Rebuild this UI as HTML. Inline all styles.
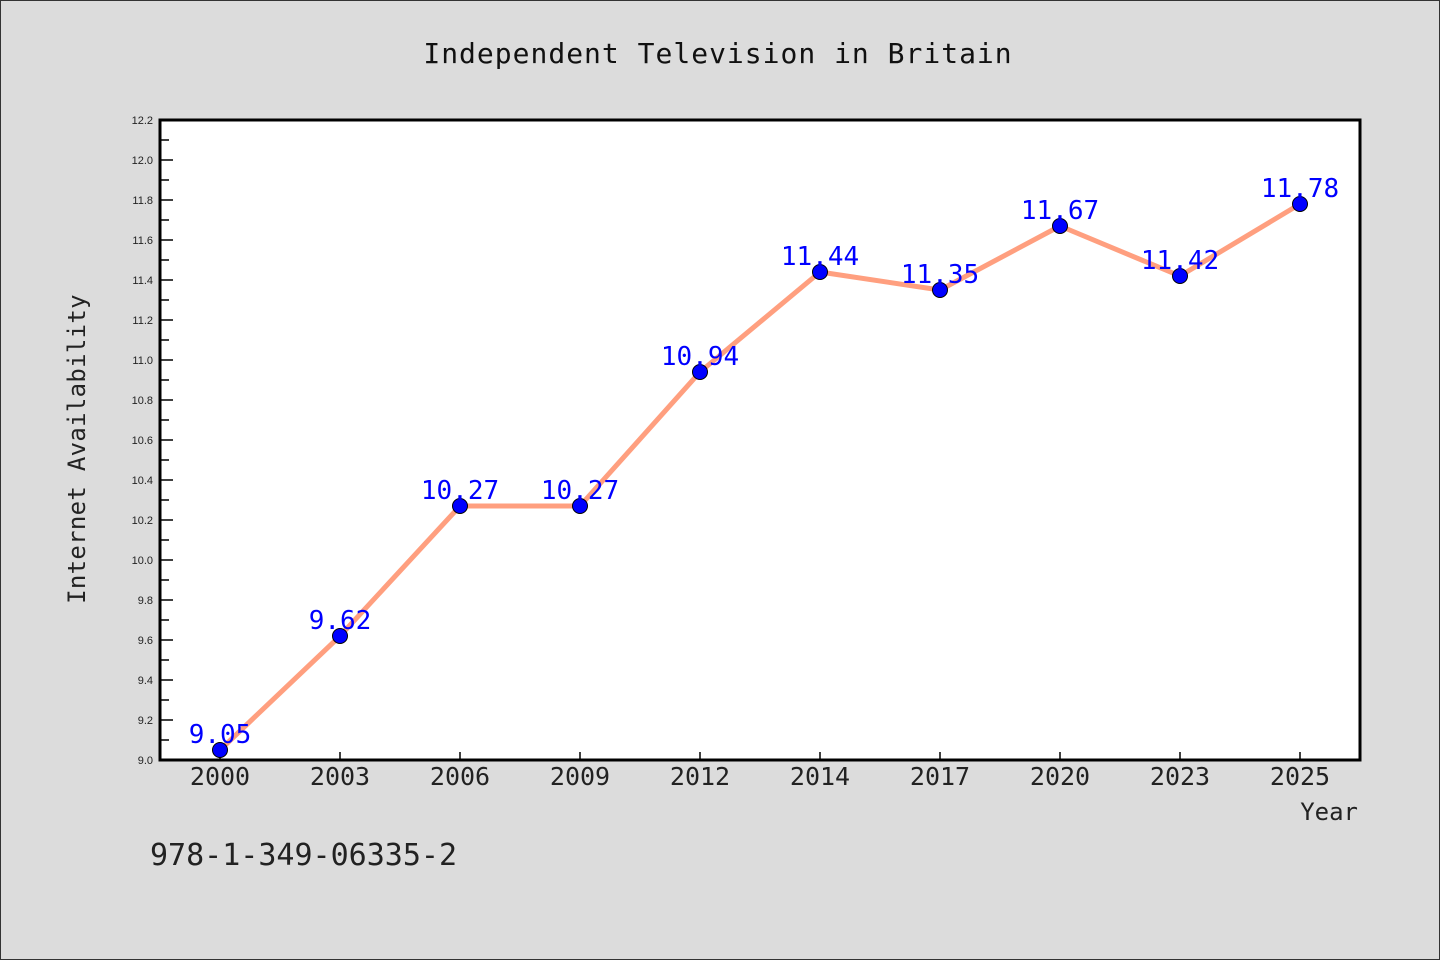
<!DOCTYPE html>
<html><head><meta charset="utf-8"><style>
html,body{margin:0;padding:0;background:#dcdcdc;}
svg{display:block;font-family:"DejaVu Sans Mono","Liberation Mono",monospace;}
</style></head><body>
<svg id="chart" width="1440" height="960" xmlns="http://www.w3.org/2000/svg">
<rect x="0.5" y="0.5" width="1439" height="959" fill="#dcdcdc" stroke="#333"/>
<text x="718" y="63" text-anchor="middle" font-size="28" fill="#111" letter-spacing="1">Independent Television in Britain</text>
<rect x="160" y="120" width="1200" height="640" fill="#fff"/>
<g id="yticks"></g>
<g id="xticks"></g>
<g id="series"></g>
<rect x="160" y="120" width="1200" height="640" fill="none" stroke="#000" stroke-width="3"/>
<text transform="translate(85,449) rotate(-90)" text-anchor="middle" font-size="24" fill="#222" letter-spacing="0.3">Internet Availability</text>
<text x="1358" y="820" text-anchor="end" font-size="24" fill="#222">Year</text>
<text x="150" y="865" font-size="30" fill="#222">978-1-349-06335-2</text>
</svg>
<script>
const categories=["2000","2003","2006","2009","2012","2014","2017","2020","2023","2025"];
const values=[9.05,9.62,10.27,10.27,10.94,11.44,11.35,11.67,11.42,11.78];
const valueLabels=["9.05","9.62","10.27","10.27","10.94","11.44","11.35","11.67","11.42","11.78"];
const yTickLabels=["9.0","9.2","9.4","9.6","9.8","10.0","10.2","10.4","10.6","10.8","11.0","11.2","11.4","11.6","11.8","12.0","12.2"];
const NS="http://www.w3.org/2000/svg";
const yMin=9.0,yMax=12.2,L=160,R=1360,T=120,B=760;
function y(v){return B-(v-yMin)/(yMax-yMin)*(B-T);}
function x(i){return L+60+i*120;}
function mk(tag,attrs,parent,txt){const e=document.createElementNS(NS,tag);for(const k in attrs)e.setAttribute(k,attrs[k]);if(txt!==undefined)e.textContent=txt;parent.appendChild(e);return e;}
const yg=document.getElementById('yticks');
yTickLabels.forEach((t,i)=>{const v=parseFloat(t);const yy=y(v);
 const ln=mk('line',{x1:L,x2:L+13,y1:yy,y2:yy,stroke:'#000','stroke-width':1.5},yg);
 
 
 const tx=mk('text',{x:L-7,y:yy+4,'text-anchor':'end','font-size':11,fill:'#222','font-family':'Liberation Sans, sans-serif'},yg,t);
 
 
 if(i<yTickLabels.length-1){const ym=y(v+0.1);
  const mn=mk('line',{x1:L,x2:L+9,y1:ym,y2:ym,stroke:'#000','stroke-width':1.5},yg);
  
  }
});
const xg=document.getElementById('xticks');
categories.forEach((c,i)=>{
 const ln=mk('line',{x1:x(i),x2:x(i),y1:B,y2:B-8,stroke:'#000','stroke-width':1.5},xg);
 
 
 const tx=mk('text',{x:x(i),y:B+25,'text-anchor':'middle','font-size':25,fill:'#222'},xg,c);
 
 
});
const sg=document.getElementById('series');
const pl=mk('polyline',{points:values.map((v,i)=>x(i)+','+y(v)).join(' '),fill:'none',stroke:'#ff9f7f','stroke-width':5,'stroke-linejoin':'round'},sg);


values.forEach((v,i)=>{
 const c=mk('circle',{cx:x(i),cy:y(v),r:7.5,fill:'#0000ff',stroke:'#000','stroke-width':1},sg);
 
 
});
values.forEach((v,i)=>{
 const t=mk('text',{x:x(i),y:y(v)-7,'text-anchor':'middle','font-size':26,fill:'#0000ff'},sg,valueLabels[i]);
 
 
});
</script>
</body></html>
